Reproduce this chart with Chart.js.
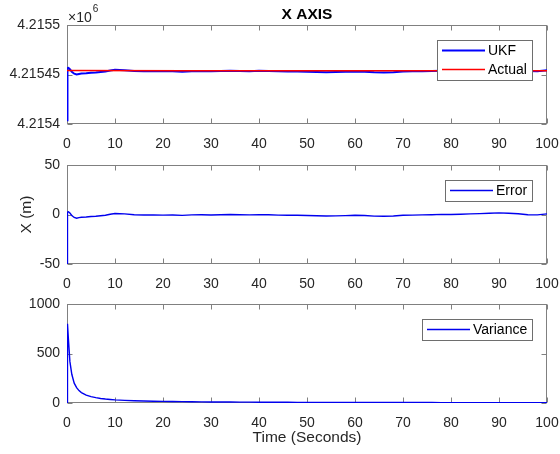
<!DOCTYPE html>
<html>
<head>
<meta charset="utf-8">
<script src="https://cdn.jsdelivr.net/npm/chart.js@4.4.0/dist/chart.umd.min.js"></script>
<style>
  html, body { margin: 0; padding: 0; background: #fff; }
  #wrap { position: relative; width: 560px; height: 454px; overflow: hidden; }
  #wrap canvas { position: absolute; left: 0; }
</style>
</head>
<body>
<div id="wrap">
  <canvas id="posChart" width="560" height="150" style="top:0"></canvas>
  <canvas id="errChart" width="560" height="140" style="top:150px"></canvas>
  <canvas id="varChart" width="560" height="164" style="top:290px"></canvas>
</div>
<script>
// time stamps (s)
const times = [0, 0.1, 0.3, 0.6, 1, 1.5, 2, 2.5, 3, 4, 5, 6, 7, 8, 9, 10,
  12, 14, 16, 18, 20, 22, 24, 26, 28, 30, 32, 34, 36, 38, 40, 42, 44, 46, 48, 50,
  52, 54, 56, 58, 60, 62, 64, 66, 68, 70, 72, 74, 76, 78, 80, 82, 84, 86, 88, 90,
  92, 94, 96, 98, 100];

// UKF estimate of X (m)
const ukfX = [4215403.8, 4215456.3, 4215456.6, 4215455.3, 4215452.8, 4215450.8, 4215450.0, 4215450.6,
  4215451.0, 4215451.3, 4215451.8, 4215452.0, 4215452.6, 4215453.0, 4215454.0, 4215454.8,
  4215454.4, 4215453.6, 4215453.3, 4215453.4, 4215453.2, 4215453.3, 4215452.9, 4215453.4,
  4215453.5, 4215453.3, 4215453.6, 4215453.8, 4215453.5, 4215453.4, 4215453.7, 4215453.5,
  4215453.2, 4215453.0, 4215453.1, 4215452.8, 4215452.5, 4215452.3, 4215452.4, 4215452.7,
  4215453.1, 4215452.8, 4215452.2, 4215452.1, 4215452.3, 4215453.0, 4215453.2, 4215453.4,
  4215453.6, 4215453.9, 4215453.8, 4215454.1, 4215454.4, 4215454.7, 4215455.0, 4215455.4,
  4215455.1, 4215454.6, 4215453.6, 4215453.4, 4215454.4];

// actual X (m)
const actualTimes = [0, 25, 50, 75, 100];
const actualX = [4215454.0, 4215453.8, 4215453.8, 4215453.9, 4215453.8];

// estimation error (m)
const errorX = [-50, 2.5, 2.8, 1.5, -1.0, -3.0, -3.8, -3.2, -2.8, -2.5, -2.0, -1.8, -1.2, -0.8, 0.2, 1.0,
  0.6, -0.2, -0.5, -0.4, -0.6, -0.5, -0.9, -0.4, -0.3, -0.5, -0.2, 0.0, -0.3, -0.4, -0.1,
  -0.3, -0.6, -0.8, -0.7, -1.0, -1.3, -1.5, -1.4, -1.1, -0.7, -1.0, -1.6, -1.7, -1.5, -0.8,
  -0.6, -0.4, -0.2, 0.1, 0.0, 0.3, 0.6, 0.9, 1.2, 1.6, 1.3, 0.8, -0.2, -0.4, 0.6];

// variance
const varianceX = [0, 800, 640, 420, 290, 200, 155, 125, 105, 80, 64, 54, 46, 40, 36, 32,
  27, 23, 20, 18, 16, 15, 13.5, 12.5, 11.5, 10.8, 10, 9.5, 9, 8.5, 8, 7.7, 7.3, 7, 6.7, 6.4,
  6.2, 6, 5.8, 5.6, 5.4, 5.2, 5.1, 4.9, 4.8, 4.6, 4.5, 4.4, 4.3, 4.2, 4.1, 4.0, 3.9, 3.8,
  3.7, 3.6, 3.6, 3.5, 3.4, 3.4, 3.3];

// ticks
const xTicks = [0, 10, 20, 30, 40, 50, 60, 70, 80, 90, 100];
const posTicks = [4215400, 4215450, 4215500];
const posTickLabels = ['4.2154', '4.21545', '4.2155'];
const errTicks = [-50, 0, 50];
const varTicks = [0, 500, 1000];

const FONT = '"Liberation Sans", Arial, Helvetica, sans-serif';
const TEXT = '#262626';
const BLUE = '#0000ee';
Chart.defaults.font.family = FONT;
Chart.defaults.font.size = 14;
Chart.defaults.color = TEXT;

const pts = (xs, ys) => xs.map((t, i) => ({ x: t, y: ys[i] }));

// matlab style box with inward ticks
const axesBox = {
  id: 'axesBox',
  beforeDatasetsDraw(chart) {
    const { ctx, chartArea: a, scales } = chart;
    const L = Math.round(a.left) + 0.5, R = Math.round(a.right) - 0.5;
    const T = Math.round(a.top) + 0.5, B = Math.round(a.bottom) - 0.5;
    ctx.save();
    ctx.strokeStyle = '#808080';
    ctx.lineWidth = 1;
    ctx.strokeRect(L, T, R - L, B - T);
    ctx.beginPath();
    scales.x.ticks.forEach(t => {
      const px = Math.round(scales.x.getPixelForValue(t.value)) + 0.5;
      ctx.moveTo(px, B); ctx.lineTo(px, B - 5);
      ctx.moveTo(px, T); ctx.lineTo(px, T + 5);
    });
    scales.y.ticks.forEach(t => {
      const py = Math.round(scales.y.getPixelForValue(t.value)) + 0.5;
      ctx.moveTo(L, py); ctx.lineTo(L + 5, py);
      ctx.moveTo(R, py); ctx.lineTo(R - 5, py);
    });
    ctx.stroke();
    ctx.restore();
  }
};

// legend box in the upper right corner of the axes
const boxLegend = {
  id: 'boxLegend',
  afterDatasetsDraw(chart) {
    const { ctx, chartArea: a } = chart;
    const sets = chart.data.datasets;
    ctx.save();
    ctx.font = '14px ' + FONT;
    const textW = Math.max(...sets.map(d => ctx.measureText(d.label).width));
    const rowH = 19, lineLen = 43;
    const w = Math.round(5 + lineLen + 3 + textW + 5);
    const h = sets.length * rowH + 2;
    const x0 = Math.round(a.right - 15 - w), y0 = Math.round(a.top + 15);
    ctx.fillStyle = '#fff';
    ctx.fillRect(x0, y0, w, h);
    ctx.strokeStyle = '#6e6e6e';
    ctx.lineWidth = 1;
    ctx.strokeRect(x0 + 0.5, y0 + 0.5, w, h);
    sets.forEach((d, i) => {
      const cy = y0 + 1 + rowH * (i + 0.5);
      ctx.strokeStyle = d.borderColor;
      ctx.lineWidth = Math.max(1.5, d.borderWidth);
      ctx.beginPath();
      ctx.moveTo(x0 + 5, cy);
      ctx.lineTo(x0 + 5 + lineLen, cy);
      ctx.stroke();
      ctx.fillStyle = '#000';
      ctx.textBaseline = 'middle';
      ctx.textAlign = 'left';
      ctx.fillText(d.label, x0 + 5 + lineLen + 3, cy + 0.5);
    });
    ctx.restore();
  }
};

// title and exponent of the top axes
const header = {
  id: 'header',
  afterDraw(chart) {
    const { ctx, chartArea: a } = chart;
    ctx.save();
    ctx.fillStyle = '#000';
    ctx.textBaseline = 'alphabetic';
    ctx.textAlign = 'center';
    ctx.font = 'bold 15.5px ' + FONT;
    ctx.fillText('X AXIS', (a.left + a.right) / 2, 18.5);
    ctx.fillStyle = TEXT;
    ctx.textAlign = 'left';
    ctx.font = '14px ' + FONT;
    ctx.fillText('\u00d710', a.left + 1, 21.5);
    const w = ctx.measureText('\u00d710').width;
    ctx.font = '10px ' + FONT;
    ctx.fillText('6', a.left + 2 + w, 12);
    ctx.restore();
  }
};

function subplot(id, datasets, yTicks, yLabels, o) {
  return new Chart(document.getElementById(id), {
    type: 'line',
    data: { datasets: datasets },
    options: {
      responsive: false,
      animation: false,
      events: [],
      layout: { padding: { top: o.padTop, right: 13, bottom: 0, left: 0 } },
      elements: { point: { radius: 0 }, line: { tension: 0 } },
      plugins: { legend: { display: false }, tooltip: { enabled: false }, title: { display: false } },
      scales: {
        x: {
          type: 'linear', min: 0, max: 100,
          afterBuildTicks: s => { s.ticks = xTicks.map(v => ({ value: v })); },
          afterFit: s => { s.height = o.xHeight; s.paddingLeft = 0; s.paddingRight = 0; },
          grid: { display: false, drawTicks: false },
          border: { display: false },
          ticks: { padding: 11.5, autoSkip: false, maxRotation: 0, color: TEXT, callback: v => String(v) },
          title: o.xTitle ? { display: true, text: o.xTitle, color: TEXT, font: { size: 15.5 }, padding: { top: 7, bottom: 7 } } : { display: false }
        },
        y: {
          type: 'linear', min: yTicks[0], max: yTicks[yTicks.length - 1],
          afterBuildTicks: s => { s.ticks = yTicks.map(v => ({ value: v })); },
          afterFit: s => { s.width = 67; s.paddingTop = 0; s.paddingBottom = 0; },
          grid: { display: false, drawTicks: false },
          border: { display: false },
          ticks: { padding: 7, color: TEXT, callback: (v, i) => yLabels[i] },
          title: o.yTitle ? { display: true, text: o.yTitle, color: TEXT, font: { size: 15.5 }, padding: { top: 17, bottom: 0 } } : { display: false }
        }
      }
    },
    plugins: o.plugins
  });
}

subplot('posChart', [
  { label: 'UKF', data: pts(times, ukfX), borderColor: '#0000ff', borderWidth: 2, order: 2 },
  { label: 'Actual', data: pts(actualTimes, actualX), borderColor: '#ff0000', borderWidth: 1.5, order: 1 }
], posTicks, posTickLabels, { padTop: 25, xHeight: 26, plugins: [axesBox, boxLegend, header] });

subplot('errChart', [
  { label: 'Error', data: pts(times, errorX), borderColor: BLUE, borderWidth: 1.4 }
], errTicks, errTicks.map(String), { padTop: 15, xHeight: 26, yTitle: 'X (m)', plugins: [axesBox, boxLegend] });

subplot('varChart', [
  { label: 'Variance', data: pts(times, varianceX), borderColor: BLUE, borderWidth: 1.4 }
], varTicks, varTicks.map(String), { padTop: 14, xHeight: 51, xTitle: 'Time (Seconds)', plugins: [axesBox, boxLegend] });
</script>
</body>
</html>
